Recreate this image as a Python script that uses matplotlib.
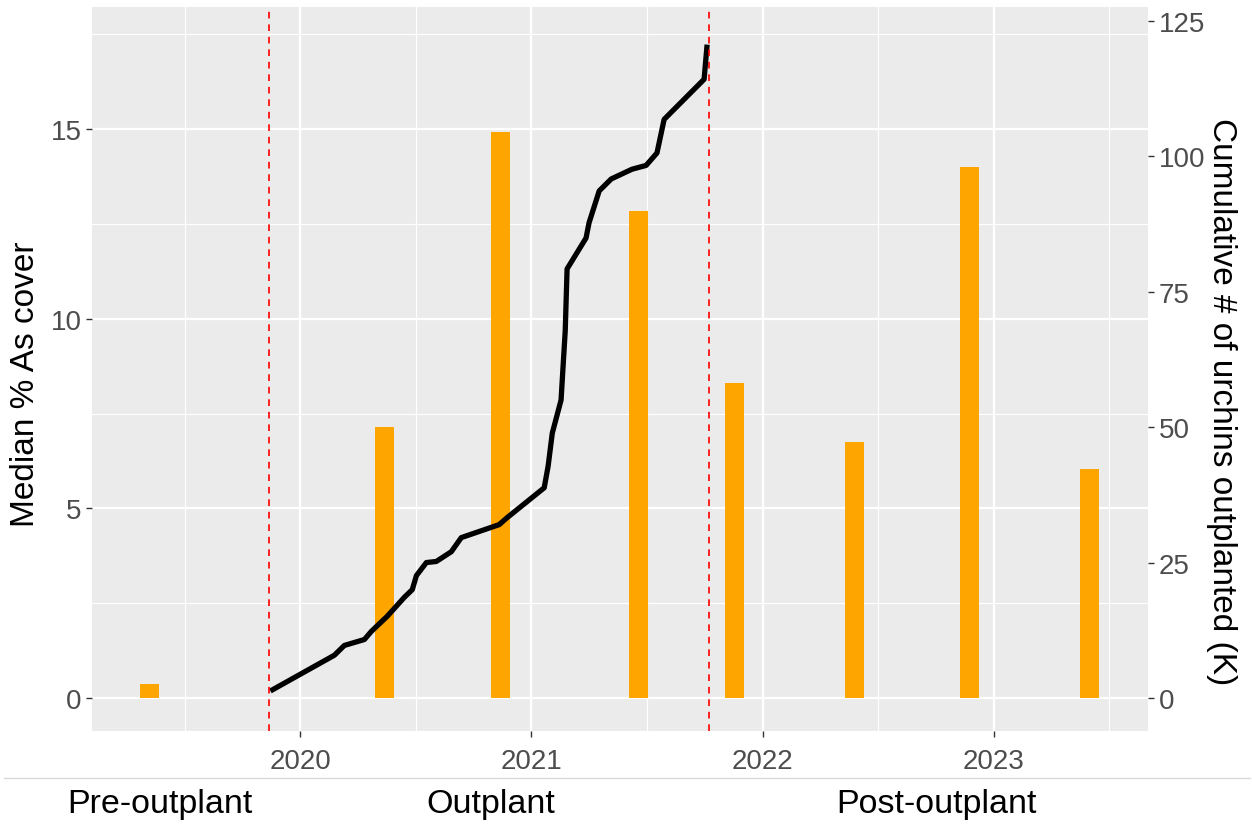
import matplotlib
matplotlib.use('Agg')
import matplotlib.pyplot as plt
from matplotlib.lines import Line2D

plt.rcParams['font.family'] = ['Liberation Sans', 'DejaVu Sans']

# survey dates (decimal years) and median % As cover
survey_years = [2019.345, 2020.363, 2020.865, 2021.463, 2021.879, 2022.396, 2022.896, 2023.414]
median_cover = [0.37, 7.14, 14.92, 12.85, 8.30, 6.76, 14.00, 6.05]

# cumulative urchins outplanted (thousands)
outplant_years = [2019.870, 2020.147, 2020.190, 2020.277, 2020.307, 2020.376, 2020.450, 2020.484,
                  2020.502, 2020.545, 2020.588, 2020.653, 2020.696, 2020.860, 2020.895, 2021.055,
                  2021.072, 2021.090, 2021.128, 2021.133, 2021.146, 2021.154, 2021.236, 2021.249,
                  2021.293, 2021.345, 2021.435, 2021.496, 2021.543, 2021.574, 2021.747, 2021.760]
cumulative_k = [1.3, 7.9, 9.7, 10.8, 12.3, 15.1, 18.6, 20.0,
                22.6, 25.0, 25.2, 27.0, 29.6, 32.0, 33.3, 38.8,
                42.8, 48.9, 55.0, 58.6, 67.8, 79.2, 84.9, 87.7,
                93.6, 95.8, 97.6, 98.3, 100.6, 106.8, 114.2, 120.6]

# start and end of outplanting
phase_breaks = [2019.866, 2021.768]
phase_labels = ['Pre-outplant', 'Outplant', 'Post-outplant']
phase_label_x = [159.5, 491, 936]

year_ticks = [2020, 2021, 2022, 2023]
left_ticks = [0, 5, 10, 15]
right_ticks = [0, 25, 50, 75, 100, 125]
scale = 7  # secondary axis factor

W, H = 1252, 828
fig = plt.figure(figsize=(W / 100, H / 100), dpi=100)
ax = fig.add_axes([92 / W, (H - 732) / H, (1148 - 92) / W, (732 - 8) / H])
ax.set_facecolor('#EBEBEB')

ax.set_xlim(2019.098, 2023.668)
ylim = (-0.87, 18.22)
ax.set_ylim(*ylim)

ax.set_xticks(year_ticks)
ax.set_xticks([2019.5, 2020.5, 2021.5, 2022.5, 2023.5], minor=True)
ax.set_yticks(left_ticks)
ax.set_yticks([2.5, 7.5, 12.5, 17.5], minor=True)
ax.grid(which='major', color='white', linewidth=1.6)
ax.grid(which='minor', color='white', linewidth=0.8)
ax.set_axisbelow(True)
for s in ax.spines.values():
    s.set_visible(False)

ax.bar(survey_years, median_cover, width=0.082, color='#FFA500', zorder=2)
ax.plot(outplant_years, [c / scale for c in cumulative_k], color='black', linewidth=3.8,
        solid_capstyle='butt', zorder=3)
for xb in phase_breaks:
    ax.axvline(xb, color='red', linestyle=(0, (4, 3.5)), linewidth=1.2, zorder=4)

tick_kw = dict(labelsize=20, labelcolor='#4D4D4D', color='#333333', length=4, width=1)
ax.tick_params(axis='both', which='major', **tick_kw)
ax.tick_params(axis='x', pad=8)
ax.tick_params(which='minor', length=0)
ax.set_ylabel('Median % As cover', fontsize=24, va='center')
ax.yaxis.set_label_coords(-0.0625, 0.481)

ax2 = ax.twinx()
ax2.set_ylim(ylim[0] * scale, ylim[1] * scale)
ax2.set_yticks(right_ticks)
ax2.tick_params(axis='y', **tick_kw)
for s in ax2.spines.values():
    s.set_visible(False)
ax2.set_ylabel('Cumulative # of urchins outplanted (K)', fontsize=24, rotation=270, va='center')
ax2.yaxis.set_label_coords(1.070, 0.457)

# divider and phase labels below the plot
fig.add_artist(Line2D([4 / W, 1250 / W], [(H - 779) / H] * 2, color='#D9D9D9', linewidth=1))
for lbl, xp in zip(phase_labels, phase_label_x):
    fig.text(xp / W, (H - 805) / H, lbl, fontsize=24.5, ha='center', va='center', color='black')

fig.savefig('out.png', dpi=100)
